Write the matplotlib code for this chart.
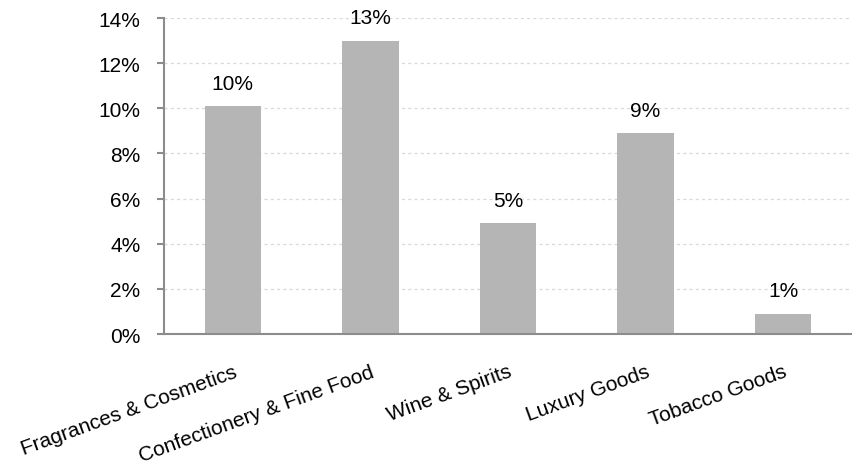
import matplotlib.pyplot as plt
import numpy as np

plt.rcParams['font.family'] = ['Liberation Sans', 'DejaVu Sans']

categories = ["Fragrances & Cosmetics", "Confectionery & Fine Food", "Wine & Spirits",
              "Luxury Goods", "Tobacco Goods"]
values = [10.1, 13.0, 4.9, 8.9, 0.9]
yticks = [0, 2, 4, 6, 8, 10, 12, 14]

fig = plt.figure(figsize=(8.52, 4.64), dpi=100)
ax = fig.add_axes([0.1925, 0.278, 0.8075, 0.681])

x = np.arange(len(categories))
ax.bar(x, values, width=0.41, color="#b5b5b5", zorder=2)

for xi, v in zip(x, values):
    ax.text(xi, v + 0.6, f"{v:.0f}%", ha="center", va="bottom", fontsize=15)

ax.set_xlim(-0.5, len(categories) - 0.5)
ax.set_ylim(0, 14)
ax.set_yticks(yticks)
ax.set_yticklabels([f"{t}%" for t in yticks], fontsize=15)
ax.yaxis.grid(True, linestyle=(0, (2.5, 2.5)), color="#d9d9d9", linewidth=0.9, zorder=0)

ax.set_xticks(x)
ax.set_xticklabels(categories, rotation=20, ha="right", rotation_mode="anchor", fontsize=15)
ax.tick_params(axis="x", length=0, pad=20)
ax.tick_params(axis="y", length=5, width=1.5, color="#8c8c8c", pad=12)

for side in ["top", "right"]:
    ax.spines[side].set_visible(False)
ax.spines["left"].set_color("#8c8c8c")
ax.spines["left"].set_linewidth(1.5)
ax.spines["bottom"].set_color("#8c8c8c")
ax.spines["bottom"].set_linewidth(1.5)

fig.savefig("out.png", dpi=100)
